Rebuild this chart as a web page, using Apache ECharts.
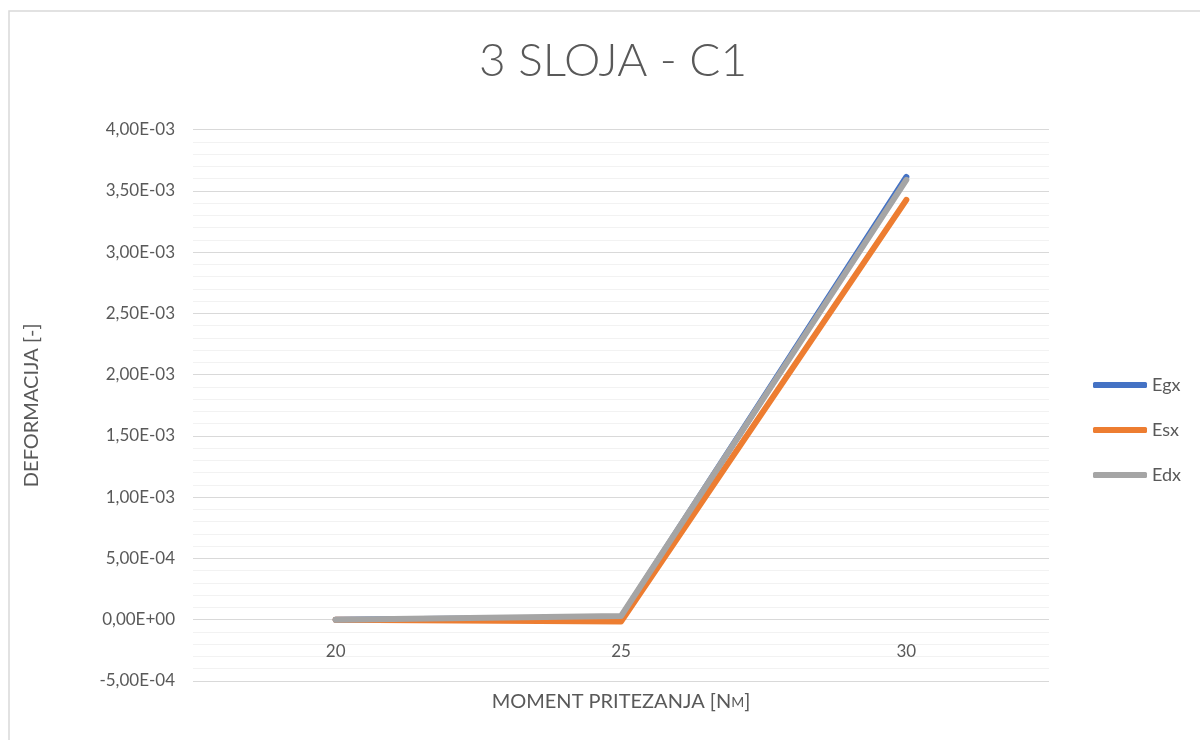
<!DOCTYPE html>
<html>
<head>
<meta charset="utf-8">
<script src="https://cdn.jsdelivr.net/npm/echarts@6/dist/echarts.min.js"></script>
<style>
html,body{margin:0;padding:0;background:#fff;}
#chart{width:1200px;height:740px;}
</style>
</head>
<body>
<div id="chart"></div>
<script>
const categories = ['20', '25', '30'];
const egx = [0, 0.000020, 0.003613];
const esx = [0, -0.000015, 0.003426];
const edx = [0, 0.000030, 0.003589];
const seriesNames = ['Egx', 'Esx', 'Edx'];
const colors = ['#4472C4', '#ED7D31', '#A5A5A5'];
const yMin = -0.0005, yMax = 0.004, yStep = 0.0005;
const FONT = 'Lato';
const TXT = '#595959';

function fmtExp(v) {
  let s = Number(v).toExponential(2);
  let [m, e] = s.split('e');
  let sign = e[0] === '-' ? '-' : '+';
  let d = e.replace(/[+-]/, '');
  if (d.length < 2) d = '0' + d;
  return m.replace('.', ',') + 'E' + sign + d;
}

const chart = echarts.init(document.getElementById('chart'));
const data = [egx, esx, edx];
chart.setOption({
  backgroundColor: '#fff',
  animation: false,
  title: {
    text: '3 SLOJA - C1',
    left: 479,
    top: 38,
    padding: 0,
    textStyle: { fontFamily: FONT, fontWeight: 300, fontSize: 46, color: TXT }
  },
  graphic: [{
    type: 'rect',
    shape: { x: 9, y: 11, width: 1200, height: 740 },
    style: { fill: 'none', stroke: '#D9D9D9', lineWidth: 1.5 },
    silent: true, z: -1
  }],
  legend: {
    orient: 'vertical',
    left: 1088,
    top: 370,
    icon: 'roundRect',
    itemWidth: 54,
    itemHeight: 6,
    itemGap: 25,
    data: seriesNames,
    textStyle: { fontFamily: FONT, fontSize: 18, color: TXT, lineHeight: 20 }
  },
  grid: { left: 193, right: 151, top: 129.5, bottom: 59, containLabel: false, outerBoundsMode: 'none' },
  xAxis: {
    type: 'category',
    data: categories,
    boundaryGap: true,
    position: 'bottom',
    axisLine: { show: false, onZero: false },
    axisTick: { show: false },
    axisLabel: { fontFamily: FONT, fontSize: 17, color: TXT, margin: -38 },
    name: 'MOMENT PRITEZANJA [N{s|M}]',
    nameLocation: 'middle',
    nameGap: 11,
    nameTextStyle: {
      fontFamily: FONT, fontSize: 20, color: TXT,
      rich: { s: { fontFamily: FONT, fontSize: 14, color: TXT } }
    }
  },
  yAxis: {
    type: 'value',
    min: yMin, max: yMax, interval: yStep,
    axisLine: { show: false },
    axisTick: { show: false },
    axisLabel: { fontFamily: FONT, fontSize: 17, color: TXT, margin: 18, formatter: fmtExp },
    splitLine: { show: true, lineStyle: { color: '#D9D9D9', width: 1 } },
    minorTick: { show: false, splitNumber: 5 },
    minorSplitLine: { show: true, lineStyle: { color: '#F2F2F2', width: 1 } },
    name: 'DEFORMACIJA [-]',
    nameLocation: 'middle',
    nameRotate: 90,
    nameGap: 151,
    nameTextStyle: { fontFamily: FONT, fontSize: 20, color: TXT }
  },
  series: seriesNames.map((n, i) => ({
    name: n,
    type: 'line',
    data: data[i],
    symbol: 'none',
    smooth: false,
    color: colors[i],
    lineStyle: { width: 6, color: colors[i], cap: 'round', join: 'round' }
  }))
});
</script>
</body>
</html>
